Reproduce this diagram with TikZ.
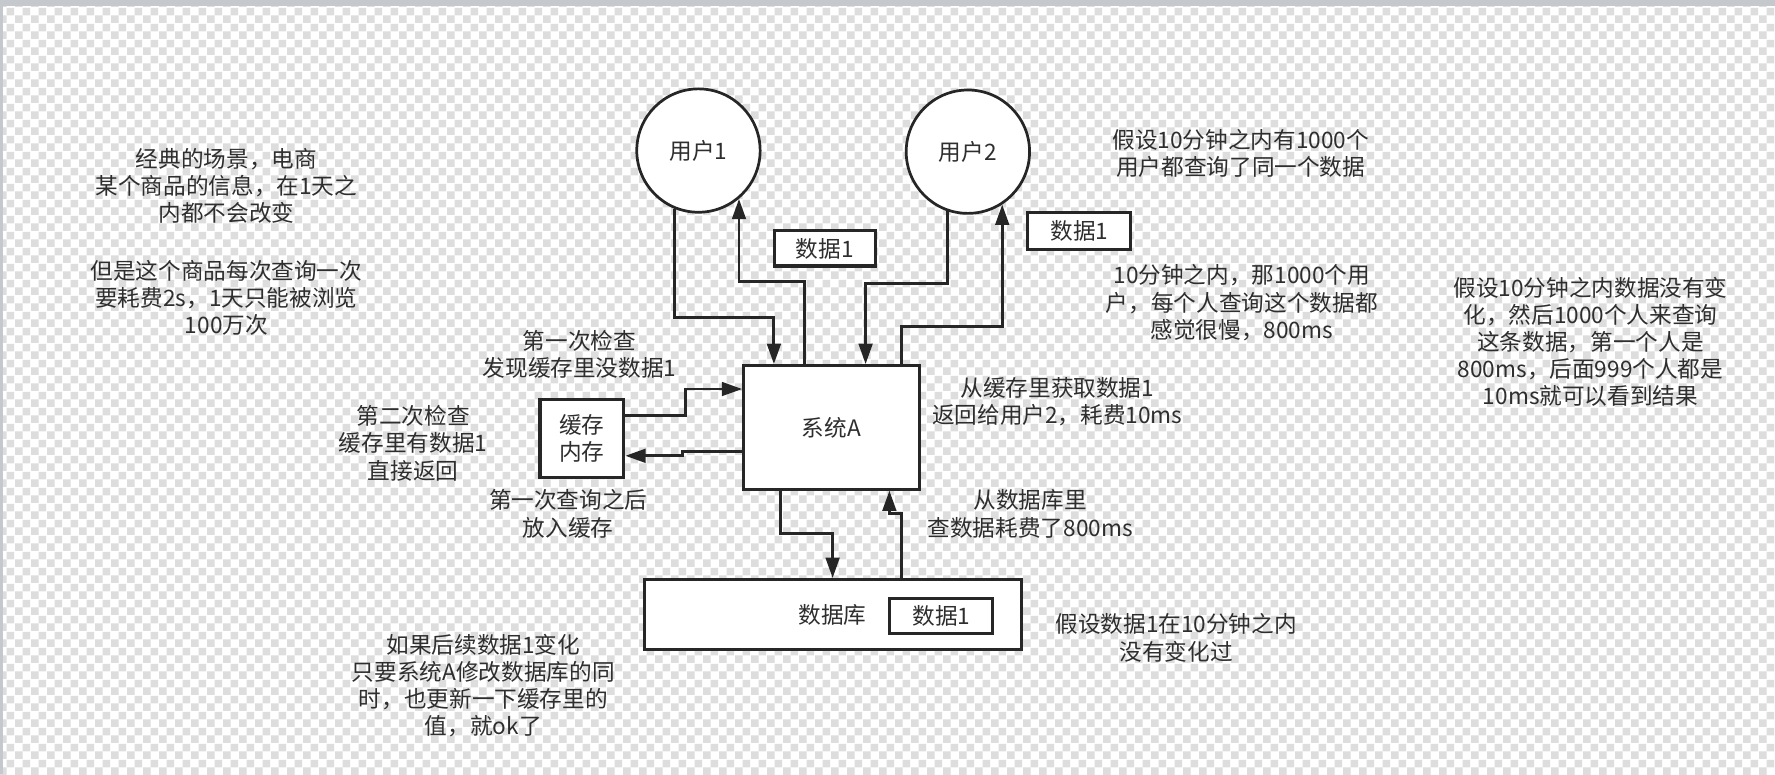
\documentclass[tikz,border=0pt]{standalone}
\usepackage{fontspec}
\setmainfont{Noto Sans CJK SC}
\usepackage{tikz}
\usetikzlibrary{arrows.meta,positioning,patterns.meta}
\usepackage{xcolor}
\definecolor{Ink}{HTML}{262626}
\definecolor{Txt}{HTML}{2E2E2E}
\definecolor{Chk}{HTML}{DDDDDD}
\definecolor{Rim}{HTML}{C5C9CD}
\tikzdeclarepattern{
  name=chk,
  type=uncolored,
  bottom left={(0pt,0pt)},
  top right={(14.2pt,14.2pt)},
  tile size={(14.2pt,14.2pt)},
  code={
    \fill (0pt,0pt) rectangle (7.1pt,7.1pt);
    \fill (7.1pt,7.1pt) rectangle (14.2pt,14.2pt);
  }
}

\begin{document}
\begin{tikzpicture}[x=1pt,y=-1pt,
  note/.style={align=center,text=Txt,inner sep=0pt,font=\fontsize{20}{24}\selectfont},
  box/.style={draw=Ink,fill=white,line width=2.7pt,text=Txt,inner sep=0pt,align=center,font=\fontsize{20}{24}\selectfont},
  user/.style={box,circle,line width=2.4pt,minimum size=109pt},
  flow/.style={draw=Ink,line width=2.6pt,-{Triangle[length=18pt,width=12pt]}}]
\fill[white] (0,0) rectangle (1568,684);
\fill[pattern=chk,pattern color=Chk] (0,0) rectangle (1568,684);
\fill[Rim] (0,0) rectangle (1568,5.5);
\fill[Rim] (0,0) rectangle (2.8,684);
\useasboundingbox (0,0) rectangle (1568,684);

\node[user] (u1) at (617,133) {用户1};
\node[user] (u2) at (855,134) {用户2};
\node[box,minimum width=155pt,minimum height=109pt] (sys) at (734.5,377.5) {系统A};
\node[box,minimum width=74pt,minimum height=69pt] (cache) at (514,387.5) {缓存\\内存};
\node[box,minimum width=333pt,minimum height=62pt] (db) at (735.5,543) {数据库};
\node[box,minimum width=91pt,minimum height=31pt] (dbd) at (831.5,544.5) {数据1};
\node[box,minimum width=89pt,minimum height=31pt] (d1) at (728.5,219.5) {数据1};
\node[box,minimum width=91pt,minimum height=32pt] (d2) at (953.5,204) {数据1};

\draw[flow] (u1.248) -- ++(0,96) -| ([xshift=28pt]sys.north west);
\draw[flow] ([xshift=55pt]sys.north west) -- ++(0,-73) -| (u1.310);
\draw[flow] (u2.251) -- ++(0,64) -| ([xshift=109pt]sys.north west);
\draw[flow] ([xshift=141pt]sys.north west) -- ++(0,-33) -| (u2.303);
\draw[flow] ([yshift=-15pt]cache.north east) -- ++(53,0) |- ([yshift=-22pt]sys.north west);
\draw[flow] ([yshift=-77pt]sys.north west) -- ++(-53,0) |- ([yshift=-51pt]cache.north east);
\draw[flow] ([xshift=34pt]sys.south west) -- ++(0,38) -| (db.north);
\draw[flow] ([xshift=60.5pt]db.north) -- ++(0,-57) -| ([xshift=130pt]sys.south west);

\node[note] (scene) at (200,213.5) {经典的场景，电商\\某个商品的信息，在1天之\\内都不会改变\\[27pt]但是这个商品每次查询一次\\要耗费2s，1天只能被浏览\\100万次};
\node[note] (users) at (1096,135.5) {假设10分钟之内有1000个\\用户都查询了同一个数据};
\node[note] (slow) at (1097,267.5) {10分钟之内，那1000个用\\户，每个人查询这个数据都\\感觉很慢，800ms};
\node[note] (result) at (1405,302) {假设10分钟之内数据没有变\\化，然后1000个人来查询\\这条数据，第一个人是\\800ms，后面999个人都是\\10ms就可以看到结果};
\node[note] (first) at (512,313) {第一次检查\\发现缓存里没数据1};
\node[note] (second) at (365,391.5) {第二次检查\\缓存里有数据1\\直接返回};
\node[note] (put) at (502,454) {第一次查询之后\\放入缓存};
\node[note] (hit) at (934,355) {从缓存里获取数据1\\返回给用户2，耗费10ms};
\node[note] (query) at (910,454) {从数据库里\\查数据耗费了800ms};
\node[note] (same) at (1039,563.5) {假设数据1在10分钟之内\\没有变化过};
\node[note] (update) at (427,605.5) {如果后续数据1变化\\只要系统A修改数据库的同\\时，也更新一下缓存里的\\值，就ok了};
\end{tikzpicture}
\end{document}
